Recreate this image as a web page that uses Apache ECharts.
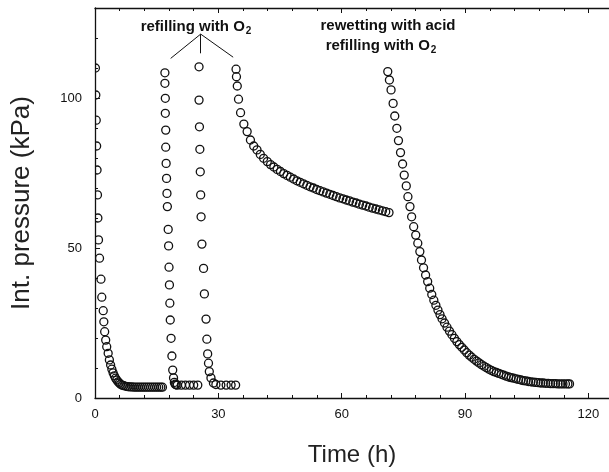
<!DOCTYPE html>
<html>
<head>
<meta charset="utf-8">
<script src="https://cdn.jsdelivr.net/npm/echarts/dist/echarts.min.js"></script>
<style>
  html, body { margin: 0; padding: 0; background: #fff; }
  #chart { width: 609px; height: 472px; }
</style>
</head>
<body>
<div id="chart"></div>
<script>
// Internal pressure of the cell over time, five filling / decay runs.
const run1Time = [0.1,0.2,0.3,0.4,0.5,0.6,0.7,0.85,1.1,1.45,1.65,2.0,2.15,2.35,2.6,2.85,3.2,3.5,3.8,4.1,4.4,4.7,5.0,5.3,5.6,5.9,6.2,6.6,7.0,7.5,8.0,8.5,9.0,9.5,10.0,10.5,11.0,11.5,12.0,12.5,13.0,13.5,14.0,14.5,15.0,15.5,16.0,16.4];
const run1Pressure = [110,101,92.6,84,76,67.7,60,52.7,46.6,39.6,33.6,29.1,25.4,22.1,19.3,17.1,14.9,12.7,11.0,9.6,8.4,7.4,6.6,6.0,5.4,5.0,4.6,4.3,4.1,3.9,3.8,3.7,3.7,3.6,3.6,3.6,3.6,3.6,3.6,3.6,3.6,3.6,3.6,3.6,3.6,3.6,3.6,3.6];

const run2Time = [17.0,17.0,17.1,17.1,17.2,17.2,17.3,17.4,17.5,17.6,17.8,17.9,18.0,18.1,18.2,18.3,18.5,18.7,18.9,19.1,19.3,19.5,19.7,20.0,21.0,22.0,23.0,24.0,25.0];
const run2Pressure = [108.4,104.9,99.9,94.9,89.3,83.6,78.2,73.2,68.2,63.8,56.2,50.7,43.6,37.7,31.6,26.0,19.9,14.0,9.3,6.7,5.2,4.6,4.4,4.3,4.3,4.3,4.3,4.3,4.3];

const run3Time = [25.3,25.3,25.4,25.5,25.6,25.7,25.8,26.0,26.4,26.6,27.0,27.2,27.4,27.6,27.8,28.2,28.8,29.4,30.6,31.9,33.1,34.2];
const run3Pressure = [110.4,99.3,90.4,82.9,75.4,67.7,60.4,51.3,43.2,34.7,26.3,19.6,14.7,11.6,8.8,6.7,5.0,4.5,4.3,4.3,4.3,4.3];

const run4Time = [34.3,34.4,34.6,34.9,35.4,36.2,37.0,37.8,38.6,39.4,40.2,41.0,41.9,42.7,43.5,44.3,45.1,45.9,46.7,47.5,48.3,49.1,49.9,50.7,51.5,52.3,53.1,53.9,54.7,55.5,56.3,57.1,57.9,58.7,59.5,60.3,61.1,61.9,62.7,63.5,64.3,65.1,65.9,66.7,67.5,68.3,69.1,69.9,70.7,71.5];
const run4Pressure = [109.6,107.1,104.0,99.6,95.1,91.3,88.8,86.0,84.0,82.7,81.2,79.9,78.8,77.8,77.0,76.2,75.5,74.8,74.2,73.6,73.0,72.4,71.9,71.4,70.9,70.4,70.0,69.5,69.1,68.7,68.3,67.9,67.5,67.1,66.7,66.4,66.0,65.7,65.3,65.0,64.6,64.3,64.0,63.6,63.3,63.0,62.7,62.4,62.1,61.8];

const run5Time = [71.2,71.6,72.0,72.5,72.9,73.4,73.8,74.3,74.8,75.2,75.7,76.1,76.6,77.0,77.5,78.0,78.5,79.0,79.4,79.9,80.4,80.9,81.4,81.9,82.4,82.9,83.4,83.9,84.4,85.0,85.6,86.2,86.8,87.4,88.0,88.6,89.2,89.8,90.4,91.0,91.6,92.2,92.8,93.4,94.0,94.6,95.2,95.8,96.4,97.0,97.6,98.2,98.8,99.4,100.0,100.6,101.2,101.8,102.4,103.0,103.6,104.2,104.8,105.4,106.0,106.6,107.2,107.8,108.4,109.0,109.6,110.2,110.8,111.4,112.0,112.6,113.2,113.8,114.4,115.0,115.4];
const run5Pressure = [108.8,106.0,102.7,98.2,94.0,89.9,85.8,81.8,78.0,74.3,70.7,67.1,63.8,60.4,57.1,54.3,51.6,48.8,46.0,43.4,41.0,38.8,36.6,34.5,32.6,30.9,29.3,27.8,26.4,25.0,23.6,22.3,21.1,19.9,18.8,17.8,16.9,16.0,15.1,14.3,13.6,12.9,12.3,11.7,11.1,10.6,10.1,9.6,9.2,8.8,8.5,8.2,7.9,7.6,7.3,7.0,6.8,6.6,6.4,6.2,6.0,5.8,5.7,5.5,5.4,5.3,5.2,5.1,5.0,5.0,4.9,4.9,4.8,4.8,4.8,4.7,4.7,4.7,4.7,4.7,4.7];

// Axis ranges and tick steps
const timeRange = [0, 125];
const pressureRange = [0, 130];
const timeStep = 30;
const pressureStep = 50;

// Callout pointing at the three O2 refills (data coordinates)
const calloutApex = [25.7, 121.3];
const calloutEnds = [[18.4, 113.2], [25.6, 114.9], [33.6, 113.6]];

const runs = [
  [run1Time, run1Pressure],
  [run2Time, run2Pressure],
  [run3Time, run3Pressure],
  [run4Time, run4Pressure],
  [run5Time, run5Pressure]
];

const FONT = '"Liberation Sans", Arial, sans-serif';
const INK = '#111';
const MARKER_R = 4;

const chart = echarts.init(document.getElementById('chart'), null, { renderer: 'canvas' });

// Open circles, clipped to the plot frame so points on the axis show as half rings
function renderRing(params, api) {
  const pt = api.coord([api.value(0), api.value(1)]);
  return {
    type: 'circle',
    shape: { cx: pt[0], cy: pt[1], r: MARKER_R },
    style: { fill: 'none', stroke: INK, lineWidth: 1.3 },
    silent: true
  };
}

const series = runs.map(([t, p], i) => ({
  type: 'custom',
  name: 'run' + (i + 1),
  data: t.map((x, k) => [x, p[k]]),
  encode: { x: 0, y: 1 },
  renderItem: renderRing,
  clip: true,
  silent: true,
  animation: false
}));

// Holder series for the callout lines
series.push({
  type: 'scatter',
  name: 'callout',
  data: [],
  silent: true,
  markLine: {
    silent: true,
    symbol: 'none',
    animation: false,
    lineStyle: { color: INK, width: 1, type: 'solid' },
    label: { show: false },
    data: calloutEnds.map(e => [{ coord: calloutApex }, { coord: e }])
  }
});

const subRich = { s: { fontSize: 10, fontFamily: FONT, fontWeight: 'bold', color: INK, padding: [8, 0, 0, 1] } };

function note(text, x, y) {
  return {
    type: 'text',
    x: x, y: y,
    style: {
      text: text,
      font: 'bold 15px ' + FONT,
      fill: INK,
      align: 'center',
      verticalAlign: 'middle',
      rich: subRich
    },
    silent: true
  };
}

const axisCommon = {
  axisLine: { show: true, lineStyle: { color: INK, width: 1.3 } },
  axisTick: { show: true, inside: true, length: 5, lineStyle: { color: INK, width: 1 } },
  minorTick: { show: true, splitNumber: 5, length: 3, lineStyle: { color: INK, width: 1 } },
  splitLine: { show: false }
};

const option = {
  animation: false,
  backgroundColor: '#fff',
  grid: { left: 95, top: 8, width: 519, height: 390, containLabel: false },
  xAxis: [
    Object.assign({
      type: 'value',
      min: timeRange[0], max: timeRange[1], interval: timeStep,
      name: 'Time (h)', nameLocation: 'middle', nameGap: 45,
      nameTextStyle: { fontFamily: FONT, fontSize: 24, color: '#222' },
      axisLabel: { fontFamily: FONT, fontSize: 13, color: INK, margin: 10, showMaxLabel: false }
    }, axisCommon),
    Object.assign({
      type: 'value', position: 'top',
      min: timeRange[0], max: timeRange[1], interval: timeStep,
      axisLabel: { show: false }
    }, axisCommon)
  ],
  yAxis: Object.assign({
    type: 'value',
    min: pressureRange[0], max: pressureRange[1], interval: pressureStep,
    name: 'Int. pressure (kPa)', nameLocation: 'middle', nameGap: 60,
    nameTextStyle: { fontFamily: FONT, fontSize: 26, color: '#222' },
    axisLabel: { fontFamily: FONT, fontSize: 13, color: INK, margin: 13, showMaxLabel: false }
  }, axisCommon),
  graphic: [
    note('refilling with O{s|2}', 196, 27),
    note('rewetting with acid', 388, 26),
    note('refilling with O{s|2}', 381, 46)
  ],
  series: series
};

chart.setOption(option);
</script>
</body>
</html>
